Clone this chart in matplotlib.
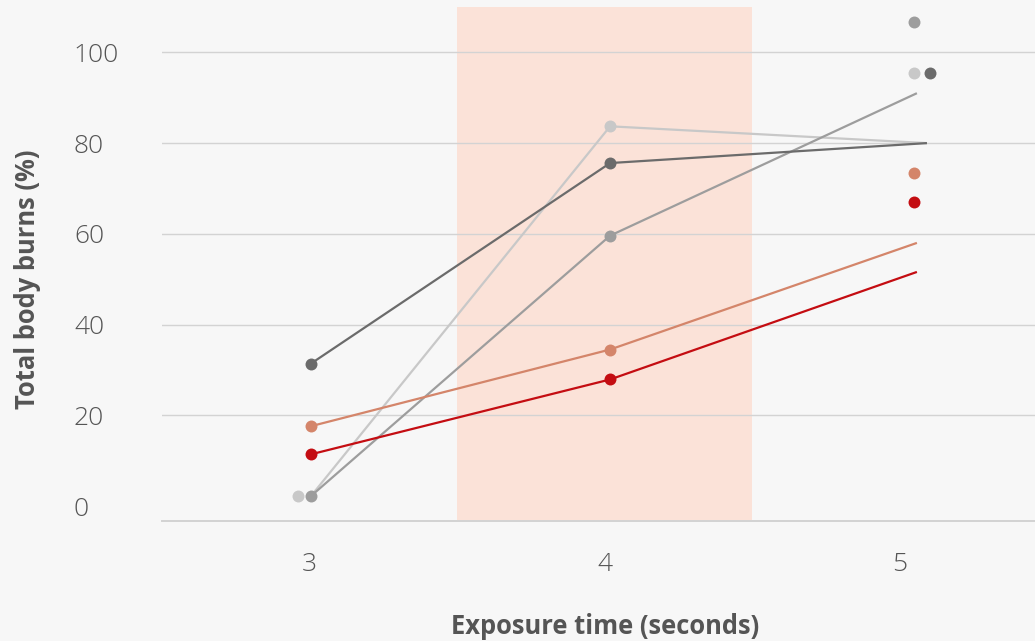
import matplotlib
matplotlib.use("Agg")
import matplotlib.pyplot as plt

# ---- data ----
x_ticks = [3, 4, 5]
y_ticks = [0, 20, 40, 60, 80, 100]
highlight_range = [3.5, 4.5]

series_names = ["light gray", "gray", "dark gray", "orange", "red"]
colors = ["#c8c8c8", "#9d9d9d", "#6b6b6b", "#d4856a", "#c40d12"]

# point positions (small horizontal dodge as in original)
pts_x = [
    [2.961, 4.019, 5.049],
    [3.005, 4.019, 5.049],
    [3.005, 4.019, 5.103],
    [3.005, 4.019, 5.049],
    [3.005, 4.019, 5.049],
]
pts_y = [
    [2.2, 83.7, 95.4],
    [2.2, 59.6, 106.6],
    [31.4, 75.6, 95.4],
    [17.6, 34.5, 73.4],
    [11.4, 27.9, 67.0],
]
# line paths (third vertex is a projected endpoint, not a point)
line_x = [
    [3.005, 4.019, 5.093],
    [3.005, 4.019, 5.059],
    [3.005, 4.019, 5.093],
    [3.005, 4.019, 5.059],
    [3.005, 4.019, 5.059],
]
line_y = [
    [2.2, 83.7, 80.0],
    [2.2, 59.6, 91.0],
    [31.4, 75.6, 80.0],
    [17.6, 34.5, 58.0],
    [11.4, 27.9, 51.6],
]

bg = "#f7f7f7"
text_col = "#555555"

plt.rcParams["font.family"] = ["Open Sans", "DejaVu Sans"]

fig = plt.figure(figsize=(10.35, 6.41), dpi=100, facecolor=bg)
ax = fig.add_axes([162 / 1035, 120 / 641, 873 / 1035, 514 / 641])
ax.set_facecolor(bg)

ax.axvspan(highlight_range[0], highlight_range[1], color="#fbe2d8", zorder=0, lw=0)

for i in range(len(series_names)):
    ax.plot(line_x[i], line_y[i], color=colors[i], lw=1.6, zorder=3,
            solid_capstyle="butt")
    ax.plot(pts_x[i], pts_y[i], linestyle="none", marker="o", markersize=8.6,
            color=colors[i], markeredgewidth=0, zorder=4)

ax.set_xlim(2.5, 2.5 + 873 / 295)
ax.set_ylim(-3.3, 110)
ax.set_xticks(x_ticks)
ax.set_yticks(y_ticks)
ax.set_xticklabels([str(v) for v in x_ticks])
ax.set_yticklabels([str(v) for v in y_ticks])

ax.yaxis.grid(True, color="#d3d3d3", lw=1.0, zorder=1)
ax.set_axisbelow(False)
gl = ax.get_ygridlines()
gl[0].set_visible(False)
for g in gl:
    g.set_zorder(1)

for s in ["top", "right", "left"]:
    ax.spines[s].set_visible(False)
ax.spines["bottom"].set_color("#d3d3d3")
ax.spines["bottom"].set_linewidth(1.4)
ax.spines["bottom"].set_zorder(1)

ax.tick_params(axis="both", length=0, colors=text_col, labelsize=19)
ax.tick_params(axis="y", pad=63.4)
ax.tick_params(axis="x", pad=22.5)
for lab in ax.get_yticklabels():
    lab.set_horizontalalignment("left")
    lab.set_fontweight("light")
for lab in ax.get_xticklabels():
    lab.set_fontweight("light")

ax.set_xlabel("Exposure time (seconds)", fontsize=18.4, fontweight="bold", color=text_col)
ax.xaxis.set_label_coords((605 - 162) / 873, (521 - 626) / 514)
ax.xaxis.label.set_va("center")
ax.set_ylabel("Total body burns (%)", fontsize=18.4, fontweight="bold", color=text_col)
ax.yaxis.set_label_coords((28 - 162) / 873, (521 - 279) / 514)
ax.yaxis.label.set_va("center")

fig.savefig("out.png", dpi=100, facecolor=bg)
